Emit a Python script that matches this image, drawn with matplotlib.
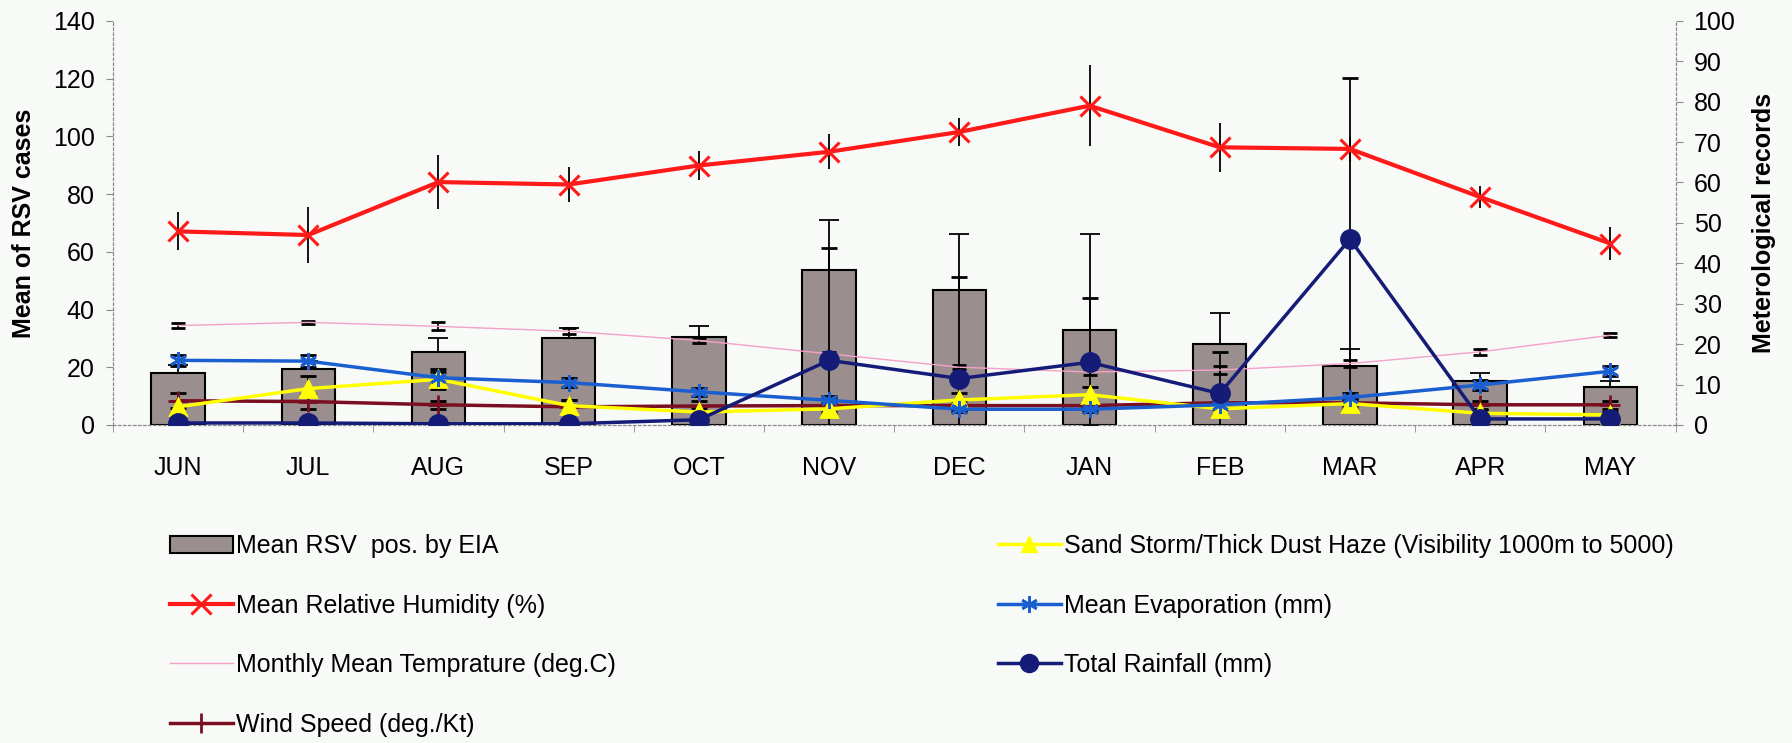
import matplotlib
matplotlib.use("Agg")
import matplotlib.pyplot as plt
from matplotlib.lines import Line2D
from matplotlib.patches import Patch
import numpy as np

months = ["JUN", "JUL", "AUG", "SEP", "OCT", "NOV", "DEC", "JAN", "FEB", "MAR", "APR", "MAY"]

# left axis: mean RSV cases
rsv = [18, 19.5, 25.4, 30.2, 30.4, 53.7, 46.7, 33, 28, 20.5, 15.3, 13]
rsv_err = [2.7, 2.5, 4.8, 3.3, 4, 17.2, 19.3, 33, 10.8, 5.8, 2.6, 2.2]

# right axis: meteorological records
humidity = [47.9, 47, 60.1, 59.5, 64.2, 67.6, 72.5, 79, 68.7, 68.3, 56.4, 44.9]
humidity_err = [4.7, 7, 6.6, 4.4, 3.6, 4.3, 3.5, 10, 6, 3, 2.7, 4]
temperature = [24.6, 25.4, 24.4, 23.2, 20.9, 17.6, 14.3, 13.1, 13.6, 15.2, 18.1, 22.2]
temperature_err = [0.6, 0.4, 1.0, 0.7, 0.6, 0.5, 0.5, 0.8, 1.0, 0.8, 0.7, 0.5]
wind = [6, 5.8, 5, 4.5, 4.7, 4.8, 4.8, 4.8, 5.5, 5.5, 5, 5]
wind_err = [1.8, 1.8, 1.0, 1.6, 1.2, 1.6, 1.2, 1.2, 1.2, 1.0, 1.0, 1.0]
sand = [4.5, 9, 11.3, 4.8, 3.2, 4, 6.2, 7.5, 4, 5.3, 2.9, 2.5]
sand_err = [1.5, 3, 2.5, 1.5, 1.0, 1.5, 1.8, 2.0, 1.5, 1.5, 0.8, 0.8]
evaporation = [16, 15.8, 11.7, 10.5, 8.2, 6.1, 3.9, 3.9, 5, 6.8, 9.9, 13.3]
evaporation_err = [1.4, 1.4, 1.5, 1.2, 1.0, 1.0, 0.8, 0.8, 1.0, 1.0, 1.2, 1.2]
rainfall = [0.5, 0.5, 0.3, 0.3, 1.3, 16, 11.5, 15.5, 7.8, 46, 1.5, 1.5]
rainfall_err = [0, 0, 0, 0, 0.5, 27.8, 25, 15.8, 10.3, 39.8, 0.5, 0.5]

labels_left = ["Mean RSV  pos. by EIA", "Mean Relative Humidity (%)",
               "Monthly Mean Temprature (deg.C)", "Wind Speed (deg./Kt)"]
labels_right = ["Sand Storm/Thick Dust Haze (Visibility 1000m to 5000)",
                "Mean Evaporation (mm)", "Total Rainfall (mm)"]

plt.rcParams['font.family'] = ['Liberation Sans Narrow', 'Liberation Sans', 'DejaVu Sans']

bg = "#f8faf8"
bar_col = "#9b8e8f"
red = "#ff1a1a"
pink = "#f4a0c8"
wine = "#7a0f22"
yellow = "#ffff00"
blue = "#1a5fd0"
navy = "#141c78"
axcol = "#8a8a8a"
fs = 18

fig = plt.figure(figsize=(17.92, 7.43), dpi=100, facecolor=bg)
ax = fig.add_axes([0.063, 0.428, 0.872, 0.544])
ax.set_facecolor("none")
ax2 = ax.twinx()

x = np.arange(len(months))

ax.bar(x, rsv, width=0.41, color=bar_col, edgecolor="black", linewidth=1.5, zorder=2)
ax.errorbar(x, rsv, yerr=[np.zeros(len(rsv)), rsv_err], fmt="none", ecolor="black",
            elinewidth=1.3, capsize=7, capthick=1.3, zorder=3)

ax.set_xlim(-0.5, 11.5)
ax.set_ylim(0, 140)
ax2.set_ylim(0, 100)
ax.set_yticks(range(0, 141, 20))
ax2.set_yticks(range(0, 101, 10))

def series(y, err, color, marker, ms, lw, capsize=6, mew=2, mfc=None):
    ax2.errorbar(x, y, yerr=err, color=color, lw=lw, marker=marker, ms=ms, mew=mew,
                 mfc=mfc if mfc else color, mec=color, ecolor="black", elinewidth=1.3,
                 capsize=capsize, capthick=1.3, zorder=4)

series(temperature, temperature_err, pink, None, 0, 1.0, capsize=5)
series(wind, wind_err, wine, "+", 14, 2.5, capsize=6)
series(sand, sand_err, yellow, "^", 12, 2.5, capsize=6)
series(evaporation, evaporation_err, blue, (6, 2, 0), 12, 2.5, capsize=6)
series(rainfall, rainfall_err, navy, "o", 13, 2.5, capsize=6)
series(humidity, humidity_err, red, "x", 15, 3.0, capsize=0, mew=2.2)

for a in (ax, ax2):
    for s in a.spines.values():
        s.set_visible(False)
ax.spines["left"].set_visible(True)
ax.spines["bottom"].set_visible(True)
ax2.spines["right"].set_visible(True)
for s in (ax.spines["left"], ax.spines["bottom"], ax2.spines["right"]):
    s.set_color(axcol)
    s.set_linestyle((0, (2, 2)))
    s.set_linewidth(0.9)

ax.set_xticks(x)
ax.set_xticklabels(months, fontsize=fs)
ax.set_xticks(np.arange(-0.5, 12, 1), minor=True)
ax.tick_params(axis="x", which="major", length=0, pad=22)
ax.tick_params(axis="x", which="minor", length=5, color=axcol, direction="out")
ax.tick_params(axis="y", length=5, color=axcol, labelsize=fs, pad=8)
ax2.tick_params(axis="y", length=5, color=axcol, labelsize=fs, pad=8)

ax.set_ylabel("Mean of RSV cases", fontsize=18, fontweight="bold", labelpad=12)
ax2.set_ylabel("Meterological records", fontsize=18, fontweight="bold", labelpad=12)

h_left = [
    Patch(facecolor=bar_col, edgecolor="black", linewidth=1.5),
    Line2D([], [], color=red, lw=3, marker="x", ms=15, mew=2.2),
    Line2D([], [], color=pink, lw=1.0),
    Line2D([], [], color=wine, lw=2.5, marker="+", ms=14, mew=2),
]
h_right = [
    Line2D([], [], color=yellow, lw=2.5, marker="^", ms=12),
    Line2D([], [], color=blue, lw=2.5, marker=(6, 2, 0), ms=12, mew=2),
    Line2D([], [], color=navy, lw=2.5, marker="o", ms=13),
]
leg_kw = dict(frameon=False, fontsize=fs, handlelength=2.5, handletextpad=0.15,
              labelspacing=1.42, borderaxespad=0, borderpad=0, loc="upper left")
fig.legend(h_left, labels_left, bbox_to_anchor=(0.095, 0.281), **leg_kw)
fig.legend(h_right, labels_right, bbox_to_anchor=(0.557, 0.281), **leg_kw)

fig.savefig("out.png", dpi=100, facecolor=bg)
